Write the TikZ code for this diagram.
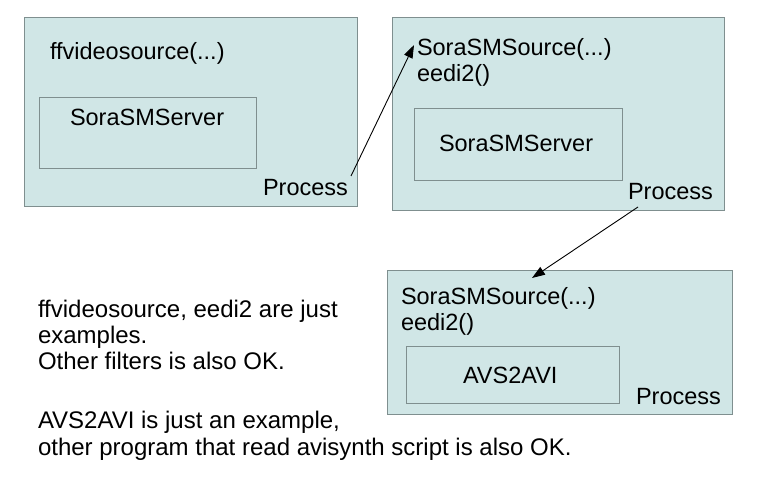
\documentclass[tikz,border=0pt]{standalone}
\usepackage{fontspec}
\setmainfont{Liberation Sans}
\usetikzlibrary{arrows.meta}
\definecolor{boxfill}{HTML}{D0E6E6}
\definecolor{boxline}{HTML}{7F8F8F}
\tikzset{
  box/.style={draw=boxline, fill=boxfill, line width=0.9pt, inner sep=0pt, outer sep=0pt, anchor=north west},
  txt/.style={anchor=base west, inner sep=0pt, outer sep=0pt, font=\fontsize{23.5}{26.5}\selectfont},
  note/.style={txt, font=\fontsize{24}{27}\selectfont},
  conn/.style={draw=black, line width=0.9pt, -{Triangle[length=13pt,width=9pt]}}
}
\begin{document}
\begin{tikzpicture}[x=1pt,y=-1pt]
\useasboundingbox (0,0) rectangle (758,484);
% Box 1
\node[box, minimum width=333pt, minimum height=189pt] (b1) at (24,17) {};
\node[box, minimum width=217pt, minimum height=71pt] (i1) at (39,97) {};
\node[txt] (t1) at (50,60) {ffvideosource(...)};
\node[txt] (s1) at (70,126) {SoraSMServer};
\node[txt] (p1) at (263,195) {Process};
% Box 2
\node[box, minimum width=332pt, minimum height=193pt] (b2) at (392,17) {};
\node[box, minimum width=208pt, minimum height=72pt] (i2) at (414,108) {};
\node[txt] (t2a) at (417,56) {SoraSMSource(...)};
\node[txt] (t2b) at (417,82) {eedi2()};
\node[txt] (s2) at (439,152) {SoraSMServer};
\node[txt] (p2) at (628,200) {Process};
% Box 3
\node[box, minimum width=345pt, minimum height=144pt] (b3) at (387,270) {};
\node[box, minimum width=213pt, minimum height=57pt] (i3) at (406,346) {};
\node[txt] (t3a) at (401,304) {SoraSMSource(...)};
\node[txt] (t3b) at (401,330) {eedi2()};
\node[txt] (s3) at (463,383) {AVS2AVI};
\node[txt] (p3) at (636,404) {Process};
% Notes
\node[note] (n1) at (38,317) {ffvideosource, eedi2 are just};
\node[note] (n2) at (38,343) {examples.};
\node[note] (n3) at (38,369) {Other filters is also OK.};
\node[note] (n4) at (38,428) {AVS2AVI is just an example,};
\node[note] (n5) at (38,455) {other program that read avisynth script is also OK.};
% Connectors
\coordinate (a1s) at (351,176);
\coordinate (a1e) at (414,45);
\coordinate (a2s) at (638,207);
\coordinate (a2e) at (532,278);
\draw[conn] (a1s) -- (a1e);
\draw[conn] (a2s) -- (a2e);
\end{tikzpicture}
\end{document}
